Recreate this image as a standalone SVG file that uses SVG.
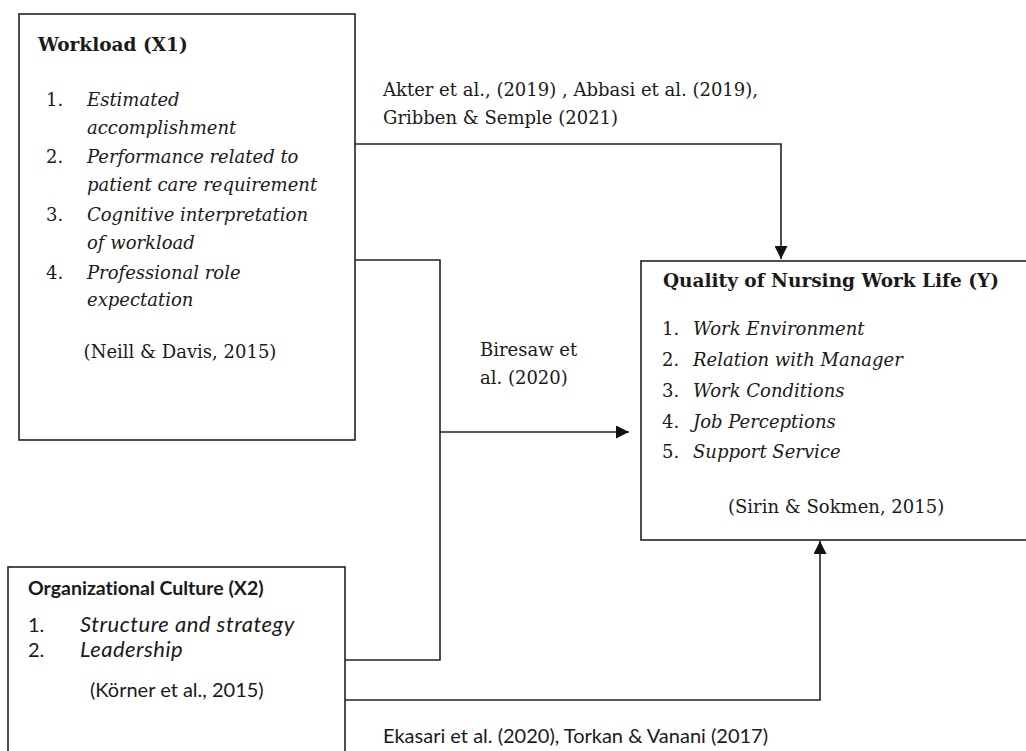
<svg xmlns="http://www.w3.org/2000/svg" width="1026" height="751" viewBox="0 0 1026 751">
<defs>
<style>
.box{fill:#fff;stroke:#222;stroke-width:1.6}
.ln{fill:none;stroke:#222;stroke-width:1.6}
.serif{font-family:"DejaVu Serif","Liberation Serif",serif;font-size:18px;fill:#1a1a1a}
.b{font-weight:bold;font-size:18.5px}
.i{font-style:italic}
.sans{font-family:Lato,"Liberation Sans",sans-serif;font-size:20px;fill:#1a1a1a;font-variant-ligatures:none}
.sb{font-weight:bold;font-size:19.5px}
.si{font-style:italic;font-size:22px;letter-spacing:0.5px}
</style>
<marker id="arr" markerWidth="13" markerHeight="13" refX="13" refY="6.5" orient="auto" markerUnits="userSpaceOnUse">
<path d="M0,0 L13,6.5 L0,13 Z" fill="#111"/>
</marker>
</defs>
<rect width="1026" height="751" fill="#fff"/>

<g id="connectors">
<path class="ln" d="M355,144 H781 V259" marker-end="url(#arr)"/>
<path class="ln" d="M355,260 H440 V660 H345"/>
<path class="ln" d="M440,432 H629" marker-end="url(#arr)"/>
<path class="ln" d="M345,700 H820 V541" marker-end="url(#arr)"/>
</g>

<g id="workload">
<rect class="box" x="19" y="14" width="336" height="426"/>
<text class="serif b" x="38" y="51">Workload (X1)</text>
<text class="serif" x="46" y="106">1.</text>
<text class="serif i" x="87" y="106">Estimated</text>
<text class="serif i" x="87" y="134">accomplishment</text>
<text class="serif" x="46" y="163">2.</text>
<text class="serif i" x="87" y="163">Performance related to</text>
<text class="serif i" x="87" y="191">patient care requirement</text>
<text class="serif" x="46" y="221">3.</text>
<text class="serif i" x="87" y="221">Cognitive interpretation</text>
<text class="serif i" x="87" y="249">of workload</text>
<text class="serif" x="46" y="279">4.</text>
<text class="serif i" x="87" y="279">Professional role</text>
<text class="serif i" x="87" y="306">expectation</text>
<text class="serif" x="180" y="358" text-anchor="middle">(Neill &amp; Davis, 2015)</text>
</g>

<g id="label-akter">
<text class="serif" x="383" y="96">Akter et al., (2019) , Abbasi et al. (2019),</text>
<text class="serif" x="383" y="124">Gribben &amp; Semple (2021)</text>
</g>

<g id="label-biresaw">
<text class="serif" x="480" y="356">Biresaw et</text>
<text class="serif" x="480" y="384">al. (2020)</text>
</g>

<g id="qnwl">
<rect class="box" x="641" y="261" width="395" height="279"/>
<text class="serif b" x="663" y="287">Quality of Nursing Work Life (Y)</text>
<text class="serif" x="662" y="335">1.</text>
<text class="serif i" x="693" y="335">Work Environment</text>
<text class="serif" x="662" y="366">2.</text>
<text class="serif i" x="693" y="366">Relation with Manager</text>
<text class="serif" x="662" y="397">3.</text>
<text class="serif i" x="693" y="397">Work Conditions</text>
<text class="serif" x="662" y="428">4.</text>
<text class="serif i" x="693" y="428">Job Perceptions</text>
<text class="serif" x="662" y="458">5.</text>
<text class="serif i" x="693" y="458">Support Service</text>
<text class="serif" x="728" y="513">(Sirin &amp; Sokmen, 2015)</text>
</g>

<g id="orgculture">
<rect class="box" x="8" y="567" width="337" height="200"/>
<text class="sans sb" x="28" y="595">Organizational Culture (X2)</text>
<text class="sans" x="28" y="632">1.</text>
<text class="sans si" x="80" y="632">Structure and strategy</text>
<text class="sans" x="28" y="657">2.</text>
<text class="sans si" x="80" y="657">Leadership</text>
<text class="sans" x="90" y="697">(Körner et al., 2015)</text>
</g>

<g id="label-ekasari">
<text class="sans" x="383" y="743">Ekasari et al. (2020), Torkan &amp; Vanani (2017)</text>
</g>
</svg>
